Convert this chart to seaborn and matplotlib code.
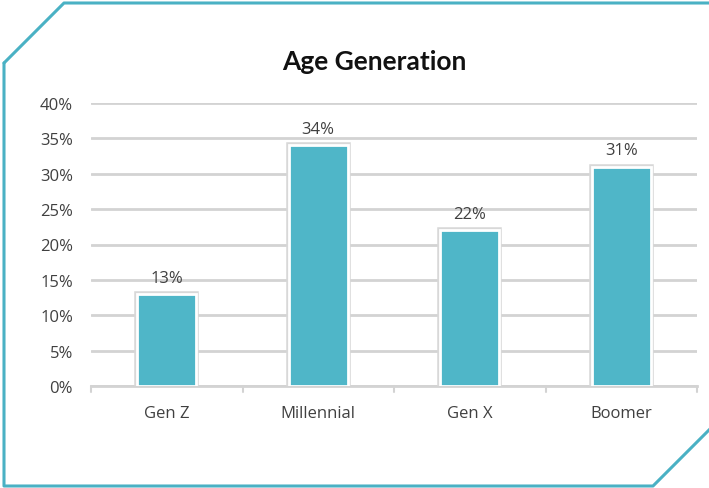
import matplotlib
matplotlib.use("Agg")
import matplotlib.pyplot as plt
import matplotlib.patheffects as pe
from matplotlib.lines import Line2D
import seaborn as sns
import pandas as pd

categories = ["Gen Z", "Millennial", "Gen X", "Boomer"]
shares = [13, 34, 22, 31]
y_ticks = [0, 5, 10, 15, 20, 25, 30, 35, 40]

sns.set_theme(style="white")
plt.rcParams["font.family"] = ["Open Sans", "DejaVu Sans"]

df = pd.DataFrame({"generation": categories, "share": shares})

fig = plt.figure(figsize=(7.09, 4.89), dpi=100)
ax = fig.add_axes([91 / 709, 1 - 387 / 489, 606 / 709, 283 / 489])

bar_color = "#4fb6c8"
sns.barplot(data=df, x="generation", y="share", color=bar_color, width=0.39,
            saturation=1, edgecolor="white", linewidth=2, ax=ax, zorder=3)
for bar in ax.patches:
    bar.set_path_effects([pe.Stroke(linewidth=4, foreground="#d8d8d8"), pe.Normal()])

ax.set_ylim(0, 40)
ax.set_xlim(-0.5, len(categories) - 0.5)
ax.set_yticks(y_ticks)
ax.set_yticklabels([f"{v}%" for v in y_ticks])
ax.yaxis.grid(True, color="#d3d3d3", linewidth=2, zorder=0)
ax.set_axisbelow(True)
ax.set_xlabel("")
ax.set_ylabel("")
for side in ["top", "right", "left"]:
    ax.spines[side].set_visible(False)
ax.spines["bottom"].set_color("#d3d3d3")
ax.spines["bottom"].set_linewidth(2)
ax.tick_params(axis="y", length=0, pad=13, labelsize=12, labelcolor="#404040")
ax.tick_params(axis="x", length=0, pad=13.5, labelsize=12, labelcolor="#404040")

# boundary ticks between categories
for b in range(len(categories) + 1):
    ax.add_line(Line2D([b - 0.5, b - 0.5], [0, -0.8], color="#d3d3d3", lw=1.5,
                       clip_on=False, zorder=2))

for i, v in enumerate(shares):
    ax.annotate(f"{v}%", (i, v), xytext=(0, 6), textcoords="offset points",
                ha="center", va="bottom", fontsize=12, color="#404040")

fig.text(374 / 709, 1 - 62 / 489, "Age Generation", ha="center", va="center",
         fontsize=19, fontweight="bold", color="#111111",
         family=["Lato", "DejaVu Sans"])

# frame with cut corners
W, H = 709, 489
pts = [(4, 64), (64, 4), (712, 4)]
frame_color = "#4ab1c4"
xs = [p[0] / W for p in pts]
ys = [1 - p[1] / H for p in pts]
fig.add_artist(Line2D(xs, ys, color=frame_color, lw=2.2, transform=fig.transFigure))
pts2 = [(4, 64), (4, 487), (653, 487), (712, 428)]
xs = [p[0] / W for p in pts2]
ys = [1 - p[1] / H for p in pts2]
fig.add_artist(Line2D(xs, ys, color=frame_color, lw=2.2, transform=fig.transFigure))

fig.savefig("out.png", dpi=100)
